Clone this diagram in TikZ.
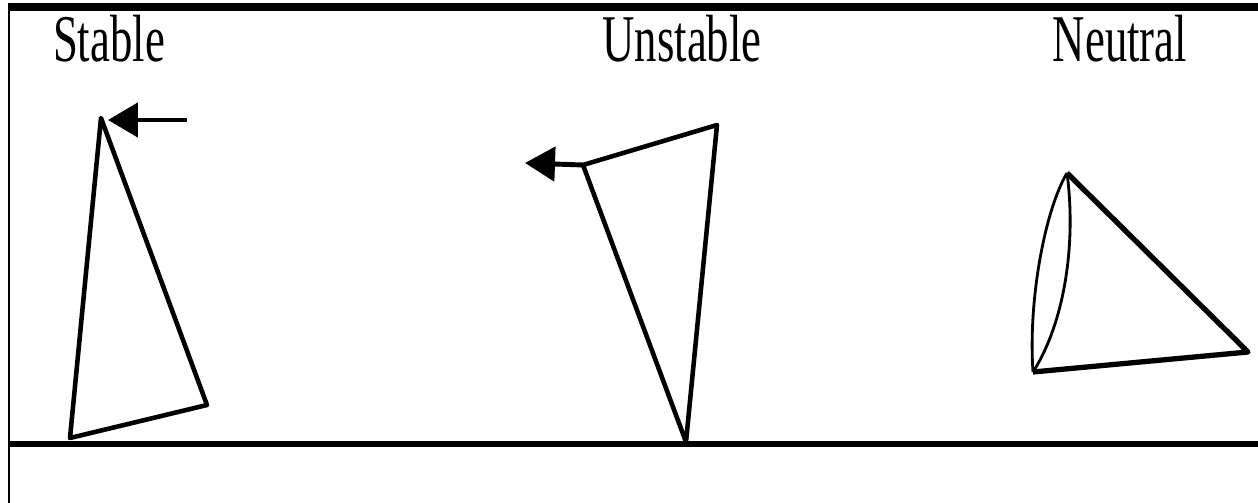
\documentclass[tikz,border=0pt]{standalone}
\usepackage{fontspec}
\setmainfont{Liberation Serif}
\usepackage{tikz}
\usetikzlibrary{arrows.meta,positioning,calc}
\tikzset{
  frameline/.style={line width=4pt, black},
  sideline/.style={line width=1.7pt, black},
  groundline/.style={line width=3.4pt, black},
  flagline/.style={line width=2.6pt, black, line join=round},
  coneline/.style={line width=1.6pt, black},
  pusharrow/.style={line width=2.8pt, -{Triangle[length=0.6cm, width=0.68cm]}},
  caption/.style={anchor=base, inner sep=0pt, font=\fontsize{38}{40}\selectfont}
}
\newcommand{\captext}[1]{\scalebox{0.67}[1]{#1}}

\begin{document}
\begin{tikzpicture}[x=0.02cm, y=-0.02cm]
  \useasboundingbox (0,0) rectangle (1258,503);
  % frame and ground
  \coordinate (tl) at (8,7);
  \coordinate (tr) at (1258,7);
  \coordinate (bl) at (9,503);
  \coordinate (gl) at (9,444);
  \coordinate (gr) at (1258,444);
  \draw[frameline] (tl) -- (tr);
  \draw[sideline] (9,7) -- (bl);
  \draw[groundline] (gl) -- (gr);

  % labels
  \node[caption] (stab) at (109,62) {\captext{Stable}};
  \node[caption] (unst) at (682,62) {\captext{Unstable}};
  \node[caption] (neut) at (1120,62) {\captext{Neutral}};

  % stable
  \coordinate (sa) at (101,118);
  \coordinate (sb) at (70,438);
  \coordinate (sc) at (207,405);
  \coordinate (sp) at (187,120);
  \draw[flagline] (sa) -- (sb) -- (sc) -- cycle;
  \draw[pusharrow] (sp) -- (108,120);

  % unstable
  \coordinate (ua) at (717,125);
  \coordinate (ub) at (583,165);
  \coordinate (uc) at (686,442);
  \coordinate (up) at (525,163);
  \draw[flagline] (ua) -- (ub) -- (uc) -- cycle;
  \draw[pusharrow] (ub) -- (up);

  % neutral
  \coordinate (na) at (1067,173);
  \coordinate (nb) at (1033,372);
  \coordinate (nc) at (1248,352);
  \draw[flagline, line width=3pt] (na) -- (nc) -- (nb);
  \draw[coneline] (na) .. controls (1045,210) and (1028,300) .. (nb);
  \draw[coneline] (na) .. controls (1076,240) and (1066,320) .. (nb);
\end{tikzpicture}
\end{document}
